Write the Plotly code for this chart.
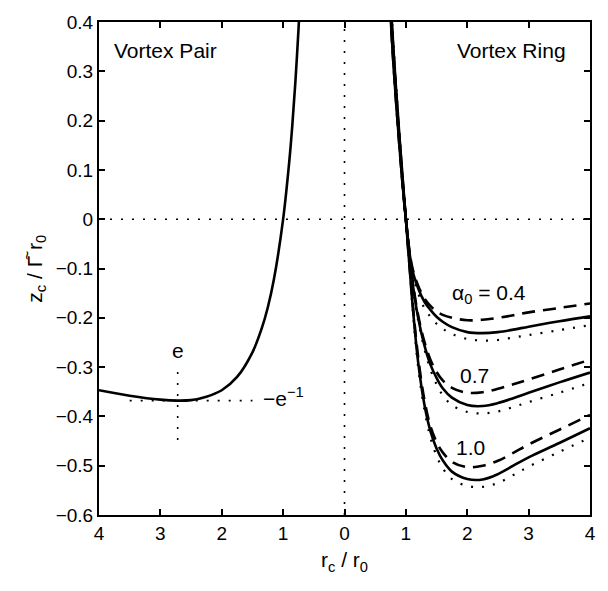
import plotly.graph_objects as go

# ---- data ----
# vortex pair (plotted on the left, x = -r)
pair_r = [4.0, 3.5, 3.0, 2.718, 2.5, 2.25, 2.0, 1.75, 1.5, 1.35, 1.25, 1.15,
          1.0, 0.9, 0.85, 0.8, 0.75, 0.72]
pair_z = [-0.347, -0.358, -0.366, -0.368, -0.367, -0.360, -0.347, -0.320,
          -0.270, -0.222, -0.179, -0.122, 0.0, 0.117, 0.191, 0.279, 0.384, 0.456]

# vortex ring (right side)
ring_r = [0.72, 0.8, 0.9, 1.0, 1.1, 1.2, 1.3, 1.4, 1.5, 1.6, 1.75, 2.0,
          2.25, 2.5, 2.75, 3.0, 3.5, 4.0]

alpha_labels = ["0.4", "0.7", "1.0"]

ring_solid = {
    "0.4": [0.48, 0.31, 0.14, 0.0, -0.100, -0.140, -0.167, -0.184, -0.198, -0.208,
            -0.219, -0.229, -0.231, -0.229, -0.224, -0.218, -0.207, -0.197],
    "0.7": [0.50, 0.33, 0.15, 0.0, -0.120, -0.200, -0.255, -0.295, -0.322, -0.343,
            -0.362, -0.377, -0.379, -0.373, -0.363, -0.352, -0.331, -0.311],
    "1.0": [0.52, 0.34, 0.16, 0.0, -0.160, -0.290, -0.375, -0.430, -0.465, -0.489,
            -0.512, -0.527, -0.528, -0.517, -0.500, -0.483, -0.454, -0.424],
}
ring_dashed = {
    "0.4": [0.47, 0.31, 0.14, 0.0, -0.095, -0.135, -0.160, -0.176, -0.187, -0.194,
            -0.200, -0.205, -0.204, -0.200, -0.195, -0.189, -0.180, -0.171],
    "0.7": [0.49, 0.32, 0.15, 0.0, -0.115, -0.195, -0.248, -0.285, -0.310, -0.327,
            -0.342, -0.352, -0.351, -0.344, -0.335, -0.325, -0.305, -0.285],
    "1.0": [0.51, 0.335, 0.155, 0.0, -0.155, -0.280, -0.365, -0.420, -0.452, -0.473,
            -0.492, -0.503, -0.500, -0.490, -0.474, -0.457, -0.427, -0.397],
}
ring_dotted = {
    "0.4": [0.49, 0.32, 0.145, 0.0, -0.105, -0.150, -0.180, -0.198, -0.212, -0.222,
            -0.233, -0.243, -0.246, -0.245, -0.240, -0.235, -0.225, -0.215],
    "0.7": [0.51, 0.34, 0.155, 0.0, -0.125, -0.205, -0.262, -0.305, -0.335, -0.357,
            -0.377, -0.391, -0.394, -0.390, -0.381, -0.371, -0.352, -0.332],
    "1.0": [0.53, 0.35, 0.165, 0.0, -0.165, -0.300, -0.385, -0.443, -0.480, -0.505,
            -0.527, -0.541, -0.543, -0.535, -0.519, -0.502, -0.472, -0.443],
}

# annotation positions
label_pos = {"0.4": (2.35, -0.152), "0.7": (2.12, -0.317), "1.0": (2.05, -0.464)}
e_value = 2.718
inv_e = -0.368

x_ticks = [-4, -3, -2, -1, 0, 1, 2, 3, 4]
x_tick_text = ["4", "3", "2", "1", "0", "1", "2", "3", "4"]
y_ticks = [-0.6, -0.5, -0.4, -0.3, -0.2, -0.1, 0, 0.1, 0.2, 0.3, 0.4]
y_tick_text = ["\u22120.6", "\u22120.5", "\u22120.4", "\u22120.3", "\u22120.2",
               "\u22120.1", "0", "0.1", "0.2", "0.3", "0.4"]

FONT = "Liberation Sans, Arial, sans-serif"
DOT = "2px,9px"
DASH = "13px,8px"

fig = go.Figure()

# reference lines through the origin
fig.add_trace(go.Scatter(x=[-4, 4], y=[0, 0], mode="lines",
                         line=dict(color="black", width=1.6, dash=DOT),
                         hoverinfo="skip"))
fig.add_trace(go.Scatter(x=[0, 0], y=[-0.6, 0.4], mode="lines",
                         line=dict(color="black", width=1.6, dash=DOT),
                         hoverinfo="skip"))

# minimum marker lines for the vortex pair
fig.add_trace(go.Scatter(x=[-3.5, -1.5], y=[inv_e, inv_e], mode="lines",
                         line=dict(color="black", width=1.6, dash=DOT),
                         hoverinfo="skip"))
fig.add_trace(go.Scatter(x=[-e_value, -e_value], y=[-0.31, -0.45], mode="lines",
                         line=dict(color="black", width=1.6, dash=DOT),
                         hoverinfo="skip"))

# vortex pair curve
fig.add_trace(go.Scatter(x=[-r for r in pair_r], y=pair_z, mode="lines",
                         line=dict(color="black", width=2.6, shape="spline"),
                         name="Vortex Pair"))

# vortex ring curves
for a in alpha_labels:
    fig.add_trace(go.Scatter(x=ring_r, y=ring_dotted[a], mode="lines",
                             line=dict(color="black", width=2.2, dash=DOT,
                                       shape="spline")))
    fig.add_trace(go.Scatter(x=ring_r, y=ring_dashed[a], mode="lines",
                             line=dict(color="black", width=2.6, dash=DASH,
                                       shape="spline")))
    fig.add_trace(go.Scatter(x=ring_r, y=ring_solid[a], mode="lines",
                             line=dict(color="black", width=2.6, shape="spline")))

ann = []
ann.append(dict(x=-2.91, y=0.343, text="Vortex Pair"))
ann.append(dict(x=2.72, y=0.343, text="Vortex Ring"))
for a in alpha_labels:
    txt = "\u03b1<sub>0</sub> = " + a if a == "0.4" else a
    ann.append(dict(x=label_pos[a][0], y=label_pos[a][1], text=txt))
ann.append(dict(x=-e_value, y=-0.267, text="e"))
ann.append(dict(x=-1.0, y=-0.36, text="\u2212e<sup>\u22121</sup>"))

for a in ann:
    fig.add_annotation(x=a["x"], y=a["y"], text=a["text"], showarrow=False,
                       font=dict(family=FONT, size=21, color="black"))

# y-axis title drawn as a rotated annotation, with a tilde over the Gamma
fig.add_annotation(xref="paper", yref="paper", x=-0.13, y=0.5,
                   text="z<sub>c</sub> / \u0393 r<sub>0</sub>", textangle=-90,
                   showarrow=False, xanchor="center", yanchor="middle",
                   font=dict(family=FONT, size=21, color="black"))
fig.add_annotation(xref="paper", yref="paper", x=-0.147, y=0.527,
                   text="~", textangle=-90, showarrow=False,
                   xanchor="center", yanchor="middle",
                   font=dict(family=FONT, size=16, color="black"))

axis_common = dict(showline=True, linecolor="black", linewidth=2, mirror="allticks",
                   ticks="inside", ticklen=6, tickwidth=1.5, tickcolor="black",
                   showgrid=False, zeroline=False,
                   tickfont=dict(family=FONT, size=19, color="black"))

fig.update_xaxes(range=[-4, 4], tickvals=x_ticks, ticktext=x_tick_text,
                 title=dict(text="r<sub>c</sub> / r<sub>0</sub>",
                            font=dict(family=FONT, size=21, color="black"),
                            standoff=10),
                 **axis_common)
fig.update_yaxes(range=[-0.6, 0.4], tickvals=y_ticks, ticktext=y_tick_text,
                 **axis_common)

fig.update_layout(width=608, height=591, showlegend=False,
                  margin=dict(l=99, r=16, t=13, b=76),
                  plot_bgcolor="white", paper_bgcolor="white")

fig.write_html("out.html")
